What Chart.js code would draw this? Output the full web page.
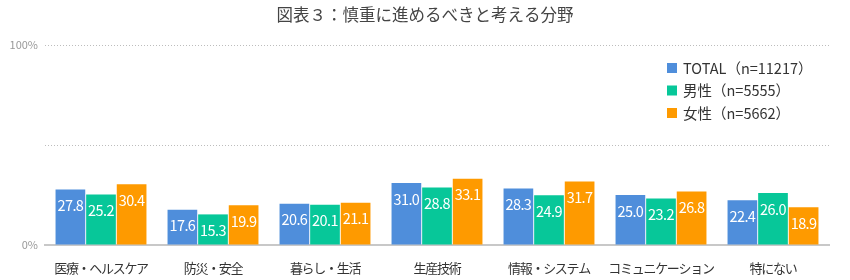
<!DOCTYPE html>
<html>
<head>
<meta charset="utf-8">
<script src="https://cdn.jsdelivr.net/npm/chart.js@4/dist/chart.umd.min.js"></script>
<style>
html,body{margin:0;padding:0;background:#fff;}
#wrap{width:850px;height:280px;position:relative;}
</style>
</head>
<body>
<div id="wrap"><canvas id="c"></canvas></div>
<script>
const titleText = '図表３：慎重に進めるべきと考える分野';
const categories = ['医療・ヘルスケア','防災・安全','暮らし・生活','生産技術','情報・システム','コミュニケーション','特にない'];
const seriesLabels = ['TOTAL（n=11217）','男性（n=5555）','女性（n=5662）'];
const totalValues = [27.8, 17.6, 20.6, 31.0, 28.3, 25.0, 22.4];
const maleValues = [25.2, 15.3, 20.1, 28.8, 24.9, 23.2, 26.0];
const femaleValues = [30.4, 19.9, 21.1, 33.1, 31.7, 26.8, 18.9];
const yTickLabels = {0: '0%', 100: '100%'};

const colors = ['#4f8edb', '#07c799', '#fe9a00'];
const FONT = '"Noto Sans CJK JP", "Noto Sans", sans-serif';

const titlePlugin = {
  id: 'titleDraw',
  afterDraw(chart) {
    const ctx = chart.ctx;
    ctx.save();
    ctx.font = '16.5px ' + FONT;
    ctx.fillStyle = '#444';
    ctx.textAlign = 'center';
    ctx.textBaseline = 'middle';
    ctx.fillText(titleText, 425, 15);
    ctx.restore();
  }
};

const xLabelPlugin = {
  id: 'xLabels',
  afterDraw(chart) {
    const ctx = chart.ctx;
    const xs = chart.scales.x;
    ctx.save();
    ctx.font = '13px ' + FONT;
    ctx.fillStyle = '#333';
    ctx.textAlign = 'center';
    ctx.textBaseline = 'middle';
    if ('letterSpacing' in ctx) ctx.letterSpacing = '-1.3px';
    chart.data.labels.forEach((lab, i) => {
      ctx.fillText(lab, xs.getPixelForValue(i), 268);
    });
    ctx.restore();
  }
};

const labelPlugin = {
  id: 'valueLabels',
  afterDatasetsDraw(chart) {
    const ctx = chart.ctx;
    ctx.save();
    ctx.font = '14.5px ' + FONT;
    ctx.fillStyle = '#fff';
    ctx.textAlign = 'center';
    ctx.textBaseline = 'middle';
    if ('letterSpacing' in ctx) ctx.letterSpacing = '-0.6px';
    chart.data.datasets.forEach((ds, i) => {
      const meta = chart.getDatasetMeta(i);
      meta.data.forEach((bar, j) => {
        ctx.fillText(ds.data[j].toFixed(1), bar.x, bar.y + 16);
      });
    });
    ctx.restore();
  }
};

const legendPlugin = {
  id: 'customLegend',
  afterDraw(chart) {
    const ctx = chart.ctx;
    ctx.save();
    ctx.font = '14.5px ' + FONT;
    ctx.textAlign = 'left';
    ctx.textBaseline = 'middle';
    const x0 = 667, y0 = 68, dy = 22.5;
    chart.data.datasets.forEach((ds, i) => {
      const y = y0 + i * dy;
      ctx.fillStyle = ds.backgroundColor;
      ctx.fillRect(x0, y - 5, 10, 10);
      ctx.fillStyle = '#333';
      ctx.fillText(ds.label, x0 + 16, y);
    });
    ctx.restore();
  }
};

const datasets = [totalValues, maleValues, femaleValues].map((vals, i) => ({
  label: seriesLabels[i],
  data: vals,
  backgroundColor: colors[i],
  borderWidth: 0,
  barPercentage: 0.97,
  categoryPercentage: 0.82
}));

new Chart(document.getElementById('c'), {
  type: 'bar',
  data: { labels: categories, datasets },
  options: {
    responsive: true,
    maintainAspectRatio: false,
    animation: false,
    layout: { padding: { top: 45, right: 21, left: 0, bottom: 0 } },
    plugins: {
      legend: { display: false },
      title: { display: false },
      tooltip: { enabled: false }
    },
    scales: {
      x: {
        grid: { display: false, drawTicks: false },
        border: { display: true, color: '#c8c8c8', width: 2 },
        ticks: { display: false },
        afterFit(axis) { axis.height = 35; }
      },
      y: {
        min: 0,
        max: 100,
        grid: {
          drawTicks: false,
          color: (c) => (c.tick && c.tick.value === 0) ? 'rgba(0,0,0,0)' : '#bdbdbd',
          lineWidth: 1
        },
        border: { display: false, dash: [1, 2] },
        ticks: {
          stepSize: 50,
          padding: 7,
          color: '#999',
          font: { family: FONT, size: 11 },
          callback: (v) => yTickLabels[v] !== undefined ? yTickLabels[v] : ''
        },
        afterFit(axis) { axis.width = 45; }
      }
    }
  },
  plugins: [titlePlugin, xLabelPlugin, labelPlugin, legendPlugin]
});
</script>
</body>
</html>
